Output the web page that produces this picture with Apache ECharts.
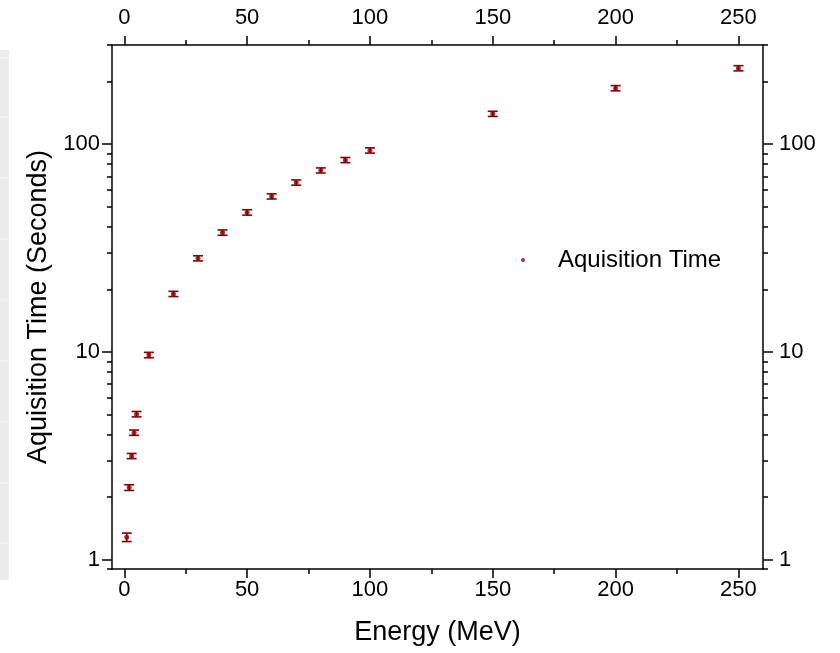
<!DOCTYPE html>
<html>
<head>
<meta charset="utf-8">
<script src="https://cdn.jsdelivr.net/npm/echarts@6/dist/echarts.min.js"></script>
<style>html,body{margin:0;padding:0;background:#fff;}#c{width:840px;height:653px;}</style>
</head>
<body>
<div id="c"></div>
<script>
// ---- data ----
const energy = [1, 2, 3, 4, 5, 10, 20, 30, 40, 50, 60, 70, 80, 90, 100, 150, 200, 250];
const acqTime = [1.28, 2.22, 3.15, 4.08, 5.01, 9.65, 19.0, 28.2, 37.5, 46.9, 56.0, 65.3, 74.7, 83.8, 93.2, 139.9, 185.9, 231.9];
const acqErr = [0.06, 0.07, 0.09, 0.12, 0.15, 0.29, 0.55, 0.8, 1.1, 1.4, 1.6, 1.9, 2.1, 2.4, 2.7, 4.0, 5.4, 6.7];
const xMajorTicks = [0, 50, 100, 150, 200, 250];
const xMinorTicks = [25, 75, 125, 175, 225];
const yMajorTicks = [1, 10, 100];
const yMinorTicks = [0.9, 2, 3, 4, 5, 6, 7, 8, 9, 20, 30, 40, 50, 60, 70, 80, 90, 200, 300];
const seriesName = 'Aquisition Time';

const lg = v => Math.log10(v);
const FONT = "'Liberation Sans', Arial, sans-serif";
const RED = '#880000';
const lineStyle = {color: '#000', width: 1.5};

const pts = energy.map((e, i) => [e, lg(acqTime[i])]);
const errs = energy.map((e, i) => [e, lg(acqTime[i] - acqErr[i]), lg(acqTime[i] + acqErr[i])]);

function xAx(pos, major) {
  return {
    type: 'value', position: pos, min: -5, max: 260,
    axisLine: {show: major, lineStyle: lineStyle, onZero: false},
    axisTick: {show: true, inside: false, length: major ? 9 : 5, lineStyle: lineStyle,
               customValues: major ? xMajorTicks : xMinorTicks},
    axisLabel: {show: major, customValues: xMajorTicks, color: '#000', fontSize: 22,
                fontFamily: FONT, margin: pos === 'top' ? 16 : 10},
    splitLine: {show: false},
    name: (major && pos === 'bottom') ? 'Energy (MeV)' : '',
    nameLocation: 'middle', nameGap: 50,
    nameTextStyle: {fontSize: 27, fontFamily: FONT, color: '#000'}
  };
}
function yAx(pos, major) {
  return {
    type: 'value', position: pos, min: lg(0.9), max: lg(300),
    axisLine: {show: major, lineStyle: lineStyle, onZero: false},
    axisTick: {show: true, inside: false, length: major ? 10 : 5, lineStyle: lineStyle,
               customValues: (major ? yMajorTicks : yMinorTicks).map(lg)},
    axisLabel: {show: major, customValues: yMajorTicks.map(lg), color: '#000', fontSize: 22,
                fontFamily: FONT, margin: pos === 'left' ? 12 : 16,
                formatter: v => String(Math.round(Math.pow(10, v)))},
    splitLine: {show: false},
    name: (major && pos === 'left') ? 'Aquisition Time (Seconds)' : '',
    nameLocation: 'middle', nameGap: 60, nameRotate: 90,
    nameTextStyle: {fontSize: 27, fontFamily: FONT, color: '#000'}
  };
}

const chart = echarts.init(document.getElementById('c'));
const stripes = [];
[58, 117, 178, 239, 300, 361, 422, 483, 543].forEach(y => {
  stripes.push({type: 'line', shape: {x1: 0, y1: y, x2: 9, y2: y}, style: {stroke: '#f8f8f8', lineWidth: 1}});
});
chart.setOption({
  animation: false,
  backgroundColor: '#fff',
  textStyle: {fontFamily: FONT},
  grid: {left: 112, right: 77, top: 45, bottom: 84, containLabel: false},
  graphic: [{type: 'rect', shape: {x: 0, y: 50, width: 9, height: 530}, style: {fill: '#ebebeb'}, z: -10}].concat(stripes),
  xAxis: [xAx('bottom', true), xAx('bottom', false), xAx('top', true), xAx('top', false)],
  yAxis: [yAx('left', true), yAx('left', false), yAx('right', true), yAx('right', false)],
  legend: {
    data: [{name: seriesName, icon: 'circle'}],
    left: 516, top: 243, itemWidth: 60, itemHeight: 4, itemGap: 0,
    textStyle: {fontSize: 24, fontFamily: FONT, color: '#000', padding: [0, 0, 0, 0]}
  },
  series: [
    {
      type: 'custom', name: 'err', xAxisIndex: 0, yAxisIndex: 0,
      data: errs, z: 3, silent: true,
      renderItem: (params, api) => {
        const x = api.value(0);
        const pLo = api.coord([x, api.value(1)]);
        const pHi = api.coord([x, api.value(2)]);
        const w = 5;
        const st = {stroke: RED, lineWidth: 1.6};
        return {type: 'group', children: [
          {type: 'line', shape: {x1: pLo[0], y1: pLo[1], x2: pHi[0], y2: pHi[1]}, style: st},
          {type: 'line', shape: {x1: pLo[0] - w, y1: pLo[1], x2: pLo[0] + w, y2: pLo[1]}, style: st},
          {type: 'line', shape: {x1: pHi[0] - w, y1: pHi[1], x2: pHi[0] + w, y2: pHi[1]}, style: st}
        ]};
      }
    },
    {
      type: 'scatter', name: seriesName, xAxisIndex: 0, yAxisIndex: 0,
      data: pts, symbol: 'circle', symbolSize: 5, z: 4,
      itemStyle: {color: RED}
    }
  ]
});
</script>
</body>
</html>
